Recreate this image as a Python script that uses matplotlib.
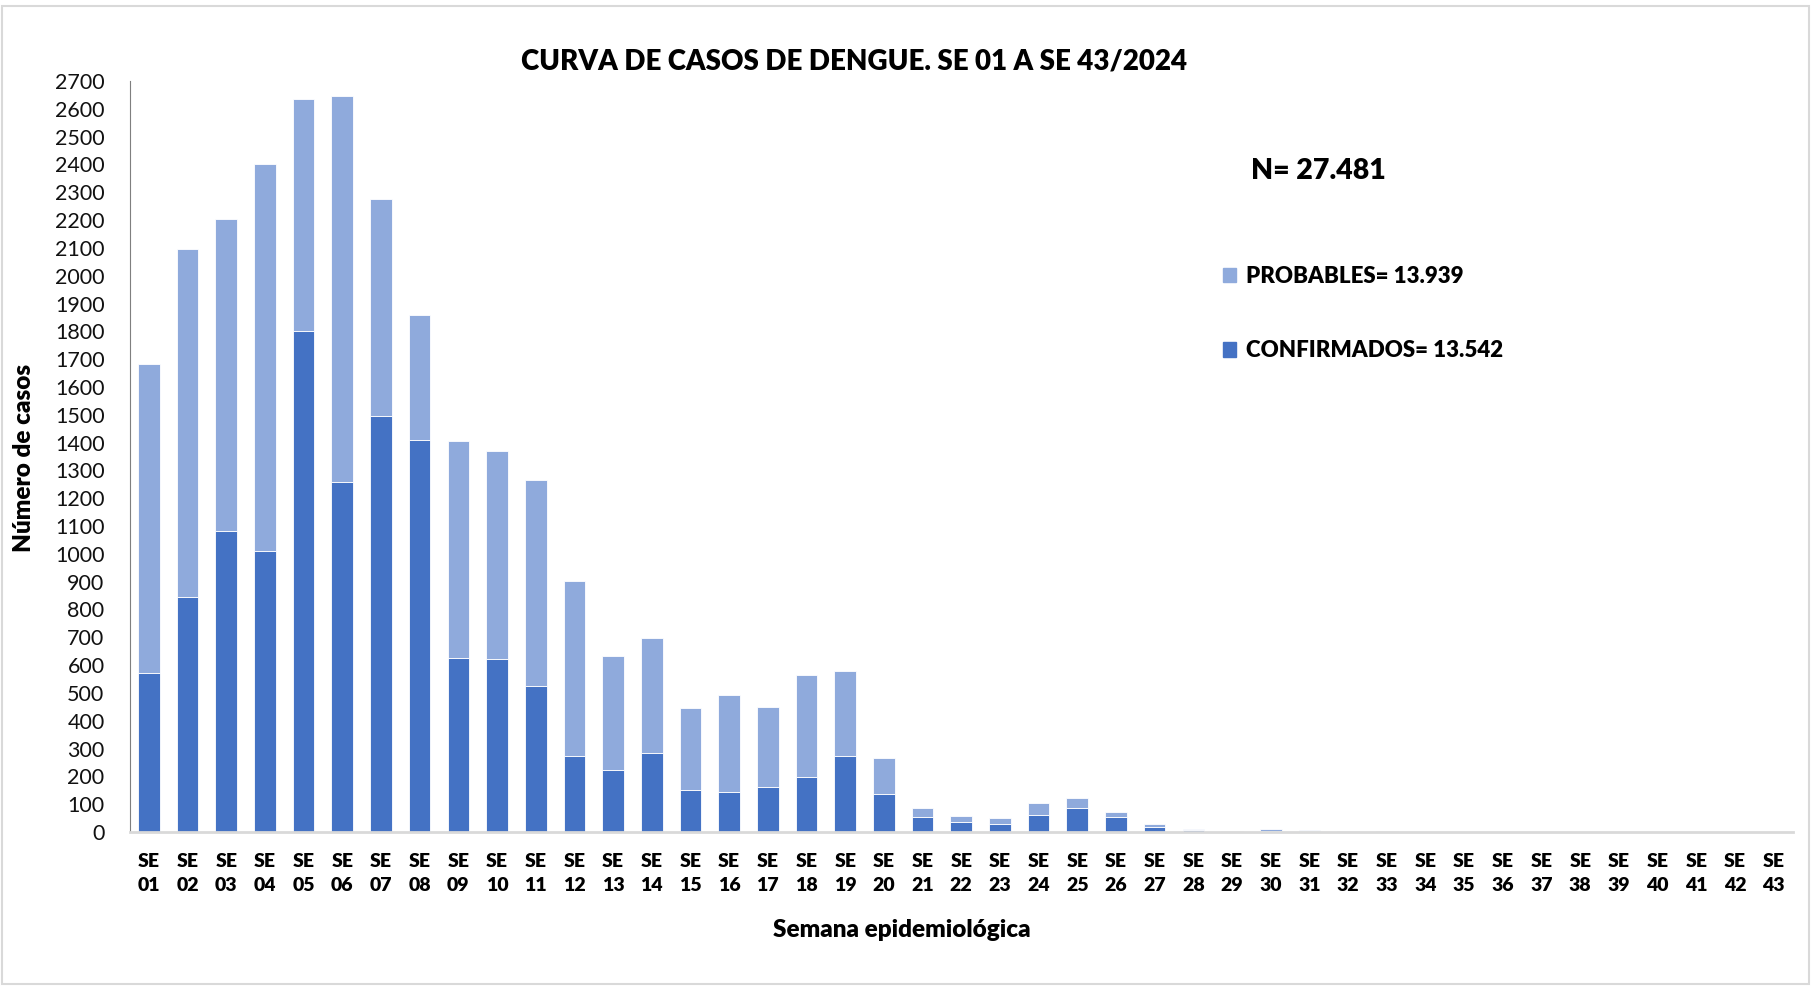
import numpy as np
import matplotlib.pyplot as plt
from matplotlib.patches import Rectangle, Patch

# Semanas epidemiológicas
semanas = ["SE\n%02d" % i for i in range(1, 44)]

# Casos confirmados y totales por semana
confirmados = [570, 844, 1082, 1011, 1803, 1257, 1496, 1408, 626, 622,
               525, 273, 222, 284, 151, 144, 162, 198, 273, 138,
               54, 36, 29, 61, 86, 54, 18, 8, 1, 5,
               5, 1, 1, 0, 0, 0, 0, 0, 0, 0,
               0, 0, 0]
totales = [1682, 2096, 2205, 2400, 2637, 2645, 2275, 1860, 1405, 1370,
           1267, 902, 633, 696, 447, 491, 451, 563, 578, 265,
           85, 59, 52, 103, 121, 71, 27, 9, 4, 12,
           8, 4, 3, 0, 0, 0, 0, 0, 0, 0,
           0, 0, 0]
probables = [t - c for t, c in zip(totales, confirmados)]

txt_n = "N= 27.481"
txt_prob = "PROBABLES= 13.939"
txt_conf = "CONFIRMADOS= 13.542"

col_conf = "#4472C4"
col_prob = "#8FAADC"

plt.rcParams['font.family'] = ['Lato', 'DejaVu Sans']
negrita = "heavy"

fig = plt.figure(figsize=(18.14, 9.86), dpi=100)
ax = fig.add_axes([0.0714, 0.1562, 0.917, 0.7616])

x = np.arange(len(semanas))
ax.bar(x, confirmados, width=0.56, color=col_conf, edgecolor="white", linewidth=0.6)
ax.bar(x, probables, width=0.56, bottom=confirmados, color=col_prob, edgecolor="white", linewidth=0.6)

ax.set_xlim(-0.5, len(semanas) - 0.5)
ax.set_ylim(0, 2700)
ax.set_yticks(range(0, 2701, 100))
ax.tick_params(axis="y", length=0, pad=18, labelsize=15.5, labelcolor="#111111")
ax.set_xticks(x)
ax.set_xticklabels(semanas, fontsize=14, fontweight=negrita, linespacing=1.5)
ax.tick_params(axis="x", length=0, pad=15)

for s in ["top", "right"]:
    ax.spines[s].set_visible(False)
ax.spines["left"].set_color("#7f7f7f")
ax.spines["left"].set_linewidth(0.8)
ax.spines["bottom"].set_color("#D9D9D9")
ax.spines["bottom"].set_linewidth(2)

fig.text(0.497, 0.057, "Semana epidemiológica", ha="center", va="center",
         fontsize=17.5, fontweight=negrita)
fig.text(0.0135, 0.536, "Número de casos", ha="center", va="center", rotation=90,
         fontsize=17.5, fontweight=negrita)

fig.text(0.471, 0.938, "CURVA DE CASOS DE DENGUE. SE 01 A SE 43/2024",
         ha="center", va="center", fontsize=20, fontweight=negrita)
fig.text(0.727, 0.827, txt_n, ha="center", va="center", fontsize=20.5, fontweight=negrita)

handles = [Patch(color=col_prob), Patch(color=col_conf)]
fig.legend(handles, [txt_prob, txt_conf], loc="upper left",
           bbox_to_anchor=(0.663, 0.751), frameon=False,
           prop={"size": 16, "weight": negrita}, handlelength=0.6,
           handleheight=0.6, handletextpad=0.45, labelspacing=2.42)

fig.patches.append(Rectangle((0.001, 0.002), 0.996, 0.992, transform=fig.transFigure,
                             fill=False, edgecolor="#D9D9D9", linewidth=1.5))

fig.savefig("out.png", dpi=100)
